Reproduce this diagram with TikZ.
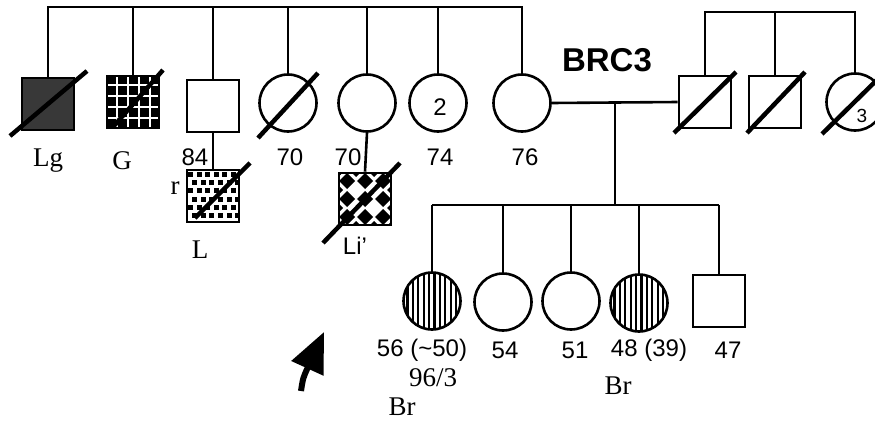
\documentclass[tikz,border=0pt]{standalone}
\usepackage{fontspec}
\setmainfont{Liberation Serif}
\setsansfont{Liberation Sans}
\usetikzlibrary{arrows.meta}

\begin{document}
\begin{tikzpicture}[x=1pt,y=-1pt,line width=2.6pt,
    male/.style={draw,rectangle,minimum size=52pt,inner sep=0pt,fill=white},
    female/.style={draw,circle,minimum size=57pt,inner sep=0pt,fill=white},
    slash/.style={line width=4.5pt},
    age/.style={font=\sffamily\fontsize{24}{26}\selectfont},
    tag/.style={font=\rmfamily\fontsize{27}{29}\selectfont},
    hatch/.style={path picture={
        \foreach \k in {-30,-24.6,...,30}
          \draw[black,line width=2.2pt] ([xshift=\k pt]path picture bounding box.north)
            -- ([xshift=\k pt]path picture bounding box.south);}},
    grid/.style={fill=black,path picture={
        \foreach \k in {-16,-5,6,17} {
          \draw[white,line width=2pt] ([xshift=\k pt]path picture bounding box.north)
            -- ([xshift=\k pt]path picture bounding box.south);
          \draw[white,line width=2pt] ([yshift=\k pt]path picture bounding box.west)
            -- ([yshift=\k pt]path picture bounding box.east);}}},
    dots/.style={path picture={
        \foreach \i in {0,...,5} \foreach \j in {0,...,5} {
          \pgfmathsetmacro\dx{mod(\j,2)*4.2}
          \fill[black] ([shift={(\i*8.6+\dx-25,\j*8.2-24)}]path picture bounding box.center)
            rectangle ++(5,5);}}},
    diamonds/.style={path picture={
        \foreach \i in {-1,0,1} \foreach \j in {-1,0,1}
          \fill[black] ([shift={(\i*18,\j*18)}]path picture bounding box.center)
            +(-8,0) -- +(0,-8) -- +(8,0) -- +(0,8) -- cycle;
        \foreach \i in {-1.5,-0.5,0.5,1.5} \foreach \j in {-1.5,1.5} {
          \fill[black] ([shift={(\i*18,\j*18)}]path picture bounding box.center)
            +(-5,0) -- +(0,-5) -- +(5,0) -- +(0,5) -- cycle;
          \fill[black] ([shift={(\j*18,\i*18)}]path picture bounding box.center)
            +(-5,0) -- +(0,-5) -- +(5,0) -- +(0,5) -- cycle;}}}]

\useasboundingbox (0,0) rectangle (875,423);

% first generation, left sibship
\node[male,fill=black!78] at (48,104) (lg) {};
\node[male,grid] at (133,102) (g) {};
\node[male] at (213,106) (l) {};
\node[female] at (288,103) (f70) {};
\node[female] at (367,103) (f70b) {};
\node[female] at (438,103) (f74) {};
\node[female] at (522,103) (f76) {};

% husband and his sibs
\node[male] at (705,102) (m1) {};
\node[male] at (775,102) (m2) {};
\node[female] at (855,102) (f3) {};

% second generation
\node[male,dots] at (213,196) (lc) {};
\node[male,diamonds] at (365,199) (li) {};
\node[female,hatch] at (432,301) (d56) {};
\node[female] at (503,302) (d54) {};
\node[female] at (571,301) (d51) {};
\node[female,hatch] at (639,303) (d48) {};
\node[male] at (719,301) (s47) {};

\coordinate (top) at (0,7);
\coordinate (top2) at (0,12);
\coordinate (kids) at (0,205);
\coordinate (mar) at (615,103);

\draw (lg.north) -- (lg.north |- top) -- (f76.north |- top) -- (f76.north);
\foreach \p in {g,l,f70,f70b,f74}
  \draw (\p.north) -- (\p.north |- top);
\draw (m1.north) -- (m1.north |- top2) -- (f3.north |- top2) -- (f3.north);
\draw (m2.north) -- (m2.north |- top2);

\draw (f76.east) -- (m1.west);
\draw (mar) -- (mar |- kids);
\draw (d56.north |- kids) -- (s47.north |- kids);
\foreach \p in {d56,d54,d51,d48,s47}
  \draw (\p.north) -- (\p.north |- kids);

\draw (l.south) -- (lc.north);
\draw (f70b.south) -- (li.north);

% deceased
\draw[slash] ([shift={(-38,32)}]lg.center) -- ([shift={(39,-33)}]lg.center);
\draw[slash] ([shift={(-20,25)}]g.center) -- ([shift={(30,-32)}]g.center);
\draw[slash] ([shift={(-30,35)}]f70.center) -- ([shift={(30,-30)}]f70.center);
\draw[slash] ([shift={(-18,22)}]lc.center) -- ([shift={(37,-33)}]lc.center);
\draw[slash] ([shift={(-42,44)}]li.center) -- ([shift={(35,-36)}]li.center);
\draw[slash] ([shift={(-31,31)}]m1.center) -- ([shift={(31,-30)}]m1.center);
\draw[slash] ([shift={(-28,31)}]m2.center) -- ([shift={(30,-30)}]m2.center);
\draw[slash] ([shift={(-33,32)}]f3.center) -- ([shift={(30,-30)}]f3.center);

% labels
\node[tag] at (48,161) (tlg) {Lg};
\node[tag] at (122,161) (tg) {G};
\node[age] at (195,157) (a84) {84};
\node[age] at (290,157) (a70) {70};
\node[age] at (348,157) (a70b) {70};
\node[age] at (440,157) (a74) {74};
\node[age] at (525,157) (a76) {76};
\node[age] at (440,107) (n2) {2};
\node[font=\sffamily\fontsize{19}{21}\selectfont] at (862,116) (n3) {3};
\node[font=\sffamily\bfseries\fontsize{33}{35}\selectfont] at (607,60) (brc) {BRC3};
\node[tag] at (175,188) (tr) {r};
\node[tag] at (200,250) (tl) {L};
\node[age] at (355,246) (tli) {Li'};

\node[age] at (422,350) (a56) {56 (\textasciitilde50)};
\node[tag] at (433,378) (t96) {96/3};
\node[tag] at (402,407) (tbr1) {Br};
\node[age] at (505,350) (a54) {54};
\node[age] at (575,350) (a51) {51};
\node[age] at (649,350) (a48) {48 (39)};
\node[age] at (728,350) (a47) {47};
\node[tag] at (618,386) (tbr2) {Br};

% proband
\coordinate (ptail) at (301,391);
\coordinate (ptip) at (324,332);
\draw[line width=6pt,-{Triangle[length=40pt,width=34pt]}] (ptail) .. controls (303,378) .. (ptip);

\end{tikzpicture}
\end{document}
